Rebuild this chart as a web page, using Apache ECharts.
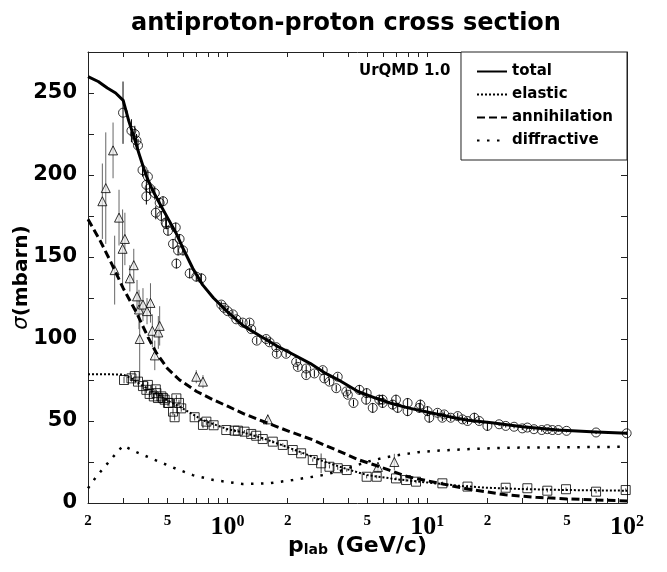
<!DOCTYPE html>
<html>
<head>
<meta charset="utf-8">
<title>antiproton-proton cross section</title>
<script src="https://cdn.jsdelivr.net/npm/echarts@6.0.0/dist/echarts.min.js"></script>
<style>
  html, body { margin: 0; padding: 0; background: #fff; }
  #chart { width: 667px; height: 572px; }
</style>
</head>
<body>
<div id="chart"></div>
<script>
// UrQMD model curves (p_lab in GeV/c, sigma in mbarn)
const totalP = [0.2, 0.225, 0.25, 0.275, 0.3, 0.32, 0.34, 0.36, 0.39, 0.42, 0.46, 0.5, 0.55, 0.6, 0.67, 0.75, 0.85, 1.0, 1.2, 1.45, 1.75, 2.1, 2.6, 3.1, 3.6, 4.5, 5.5, 6.5, 8, 10, 13, 16, 21, 30, 45, 70, 100];
const totalS = [260, 257, 253, 250, 245.5, 233, 223, 213, 200, 191, 182, 174, 165, 155, 143, 133, 125, 116.5, 108, 102, 96, 91, 85, 79, 75, 68, 64, 61, 58, 55.5, 52.5, 50.5, 49, 46.5, 44.5, 43.3, 42.5];

const elasticP = [0.2, 0.25, 0.3, 0.33, 0.36, 0.4, 0.45, 0.5, 0.57, 0.65, 0.75, 0.9, 1.0, 1.2, 1.5, 2, 2.5, 3, 4, 5, 7, 10, 15, 20, 30, 50, 100];
const elasticS = [78.5, 78.5, 78.3, 76, 73, 69.5, 66, 62.5, 59, 55, 50.5, 47, 45, 43, 39.5, 34, 29.5, 25.5, 20.5, 17, 14.5, 12.5, 10.3, 9.3, 8.5, 7.9, 7.5];

const annihP = [0.2, 0.23, 0.26, 0.3, 0.35, 0.4, 0.44, 0.5, 0.575, 0.7, 0.845, 1.0, 1.2, 1.445, 2, 2.67, 3.1, 3.63, 4.5, 5.5, 6.45, 8, 11.5, 16, 24.6, 35, 50, 100];
const annihS = [173, 160, 147, 131, 116, 101, 91.5, 82, 75, 68, 63, 59, 54.5, 50.6, 44, 38.5, 35, 31.5, 26.5, 23, 20, 16, 12, 8.5, 5, 3.5, 2.5, 1.2];

const diffP = [0.2, 0.22, 0.25, 0.28, 0.3, 0.35, 0.4, 0.457, 0.55, 0.67, 0.85, 1.19, 1.6, 2.12, 3, 3.77, 4.94, 6, 6.97, 9, 11.5, 17, 24.6, 50, 100];
const diffS = [9, 16, 24, 31, 35, 31, 28, 25, 21, 17, 14, 11.6, 12, 14, 17, 20, 25, 27.5, 29, 31, 32, 33, 33.7, 34, 34.3];

// measured total cross section (circles)
const circP = [0.2995, 0.33, 0.343, 0.35, 0.356, 0.375, 0.392, 0.392, 0.399, 0.407, 0.432, 0.437, 0.457, 0.466, 0.475, 0.49, 0.494, 0.503, 0.533, 0.55, 0.554, 0.565, 0.575, 0.598, 0.646, 0.697, 0.739, 0.93, 0.96, 1.0, 1.063, 1.105, 1.19, 1.288, 1.313, 1.4, 1.56, 1.622, 1.753, 1.763, 1.964, 2.205, 2.247, 2.475, 2.475, 2.72, 2.995, 3.05, 3.236, 3.5, 3.56, 3.93, 4.0, 4.27, 4.57, 4.97, 4.94, 5.33, 5.75, 5.97, 5.97, 6.71, 6.97, 7.11, 7.97, 7.97, 9.12, 9.23, 10.03, 10.23, 11.25, 11.9, 12.16, 13.1, 14.2, 15.0, 15.9, 17.2, 18.2, 20.0, 22.9, 24.7, 27.2, 29.9, 31.7, 34.2, 37.4, 39.9, 42.3, 45.3, 49.8, 70, 99.6];
const circS = [238, 227, 225, 221, 218, 203, 194, 187, 199, 192, 189, 177, 183, 175, 184, 171, 170, 166, 158, 168, 146, 154, 161, 154, 140, 138, 137, 121, 119, 117, 115, 112, 110, 110, 106, 99, 100, 98, 95, 91, 91, 86, 83, 82, 78, 79, 81, 76, 74, 70, 77, 68, 66, 61, 69, 67, 63, 58, 63, 61, 63, 60, 63, 58, 61, 56, 58, 60, 56, 52, 55, 52, 54, 52, 53, 51, 50, 52, 50, 47, 48, 47, 46.5, 45.5, 46, 45, 44.5, 45, 44.5, 44.5, 44, 43, 42.5];
const circE = [19, 7, 5, 4, 4, 4, 4, 5, 4, 4, 4, 4, 3, 3, 3, 3, 3, 3, 3, 3, 3, 3, 3, 3, 3, 3, 3, 2, 2, 2, 2, 2, 2, 2, 2, 2, 2, 2, 2, 2, 2, 2, 2, 2, 2, 2, 2, 2, 2, 2, 2, 2, 2, 2, 3, 3, 3, 3, 3, 3, 3, 3, 3, 3, 3, 3, 3, 3, 3, 3, 2, 2, 2, 2, 2, 2, 2, 3, 2, 3, 1, 1, 1, 1, 1, 1, 1, 1, 1, 1, 1, 1, 1];

// measured annihilation cross section (triangles)
const triP = [0.236, 0.2455, 0.267, 0.272, 0.286, 0.298, 0.306, 0.324, 0.339, 0.352, 0.36, 0.363, 0.377, 0.395, 0.411, 0.42, 0.432, 0.45, 0.457, 0.697, 0.753, 1.59, 5.66, 6.84];
const triS = [184, 192, 215, 142, 174, 155, 161, 137, 145, 126, 118, 100, 121, 117, 122, 105, 90, 104, 108, 77, 74, 51, 22, 25];
const triE = [23, 34, 17, 21, 17, 24, 16, 8, 10, 10, 12, 26, 10, 8, 12, 10, 9, 10, 12, 4, 4, 3, 3, 5];

// measured elastic cross section (squares)
const sqP = [0.303, 0.33, 0.343, 0.356, 0.377, 0.392, 0.399, 0.407, 0.427, 0.437, 0.44, 0.448, 0.466, 0.475, 0.484, 0.503, 0.509, 0.533, 0.543, 0.554, 0.571, 0.586, 0.684, 0.753, 0.783, 0.851, 0.985, 1.084, 1.126, 1.216, 1.313, 1.391, 1.5, 1.684, 1.89, 2.12, 2.335, 2.67, 2.94, 3.236, 3.56, 3.95, 4.97, 5.58, 6.97, 7.83, 8.78, 11.9, 15.9, 24.7, 31.7, 39.9, 49.5, 70, 98.5];
const sqS = [75, 76, 77.4, 74, 71.3, 69, 72, 66.5, 65, 69.3, 67, 64, 65, 64, 63, 61, 61, 55.7, 52.3, 63.8, 61, 57.7, 52.3, 47.6, 49.6, 47.4, 44.5, 44.1, 44.1, 43.5, 42.1, 41, 39, 37.4, 35.4, 32.3, 30.3, 26.2, 24.2, 22.1, 21.2, 20.1, 16, 16, 15, 14, 13, 12, 10, 9.3, 9, 7.5, 8.4, 6.9, 7.9];
const sqE = [2, 2, 3, 2, 2, 2, 2, 2, 2, 2, 2, 2, 2, 2, 2, 2, 2, 2, 2, 2, 2, 2, 2, 2, 2, 2, 1, 1, 1, 1, 1, 1, 1, 1, 1, 1, 1, 1, 6, 1, 1, 1, 1, 1, 1, 1, 1, 1, 1, 1, 1, 1, 1, 1, 1];

// axis ticks
const xTickVals = [0.2, 0.3, 0.4, 0.5, 0.6, 0.7, 0.8, 0.9, 1, 2, 3, 4, 5, 6, 7, 8, 9, 10, 20, 30, 40, 50, 60, 70, 80, 90, 100];
const xLabelVals = [0.2, 0.5, 1, 2, 5, 10, 20, 50, 100];
const yMax = 275;
const yStep = 25;

const SANS = 'DejaVu Sans';
const SERIF = 'Liberation Serif';
const logMin = Math.log10(0.2);
const logMax = Math.log10(100);

function pairs(xs, ys) {
  return xs.map((x, i) => [x, ys[i]]);
}
function triples(xs, ys, es) {
  return xs.map((x, i) => [x, ys[i], es[i]]);
}

function xLabel(v) {
  const e = Math.round(v);
  if (Math.abs(v - e) < 1e-6) return '{b|10}{e|' + e + '}';
  const lead = Math.round(Math.pow(10, v) / Math.pow(10, Math.floor(v + 1e-9)));
  return '{s|' + lead + '}';
}

function modelLine(name, xs, ys, type, width) {
  return {
    name: name,
    type: 'line',
    xAxisIndex: 0,
    yAxisIndex: 0,
    data: pairs(xs, ys),
    symbol: 'none',
    smooth: false,
    lineStyle: { color: '#000', width: width, type: type, join: 'round' },
    itemStyle: { color: '#000' },
    z: 6,
    silent: true
  };
}

function points(name, data, symbol, fill) {
  return {
    name: name,
    type: 'scatter',
    xAxisIndex: 0,
    yAxisIndex: 0,
    data: data,
    symbol: symbol,
    symbolSize: 9,
    itemStyle: { color: fill, borderColor: '#000', borderWidth: 1 },
    z: 4,
    silent: true
  };
}

function errorBars(name, data, color) {
  return {
    name: name,
    type: 'custom',
    xAxisIndex: 0,
    yAxisIndex: 0,
    data: data,
    encode: { x: 0, y: 1 },
    clip: true,
    z: 3,
    silent: true,
    renderItem: function (params, api) {
      const x = api.value(0), y = api.value(1), e = api.value(2);
      const top = api.coord([x, y + e]);
      const bot = api.coord([x, Math.max(y - e, 0)]);
      return {
        type: 'line',
        shape: { x1: top[0], y1: top[1], x2: bot[0], y2: bot[1] },
        style: { stroke: color, lineWidth: 1 }
      };
    }
  };
}

const circData = triples(circP, circS, circE);
const triData = triples(triP, triS, triE);
const sqData = triples(sqP, sqS, sqE);

const chart = echarts.init(document.getElementById('chart'), null, { renderer: 'canvas' });

const gridRect = { left: 88, right: 40, top: 52, bottom: 69, outerBoundsMode: 'none' };
const frame = { show: true, onZero: false, lineStyle: { color: '#222', width: 1 } };

const option = {
  animation: false,
  backgroundColor: '#fff',
  title: [
    {
      text: 'antiproton-proton cross section',
      left: 126,
      top: 7,
      textStyle: { fontFamily: SANS, fontSize: 24, fontWeight: 'bold', color: '#000' }
    },
    {
      text: 'UrQMD 1.0',
      left: 354,
      top: 59,
      textStyle: { fontFamily: SANS, fontSize: 15, fontWeight: 'bold', color: '#000' }
    }
  ],
  legend: {
    data: ['total', 'elastic', 'annihilation', 'diffractive'],
    orient: 'vertical',
    right: 40,
    top: 52,
    padding: [12, 14, 12, 15],
    itemGap: 8,
    itemWidth: 30,
    itemHeight: 14,
    backgroundColor: '#fff',
    borderColor: '#222',
    borderWidth: 1,
    borderRadius: 0,
    selectedMode: false,
    itemStyle: { color: 'rgba(0,0,0,0)', borderColor: 'rgba(0,0,0,0)', borderWidth: 0 },
    textStyle: { fontFamily: SANS, fontSize: 15, fontWeight: 'bold', color: '#000' }
  },
  grid: [gridRect, Object.assign({}, gridRect)],
  xAxis: [
    {
      // data axis: log scale
      type: 'log',
      gridIndex: 0,
      logBase: 10,
      min: 0.2,
      max: 100,
      position: 'bottom',
      axisLine: frame,
      axisTick: { show: false },
      axisLabel: { show: false },
      splitLine: { show: false },
      minorTick: { show: false },
      name: '{p|p}{sub|lab}{p| (GeV/c)}',
      nameLocation: 'middle',
      nameGap: 32,
      nameMoveOverlap: false,
      nameTextStyle: {
        rich: {
          p: { fontFamily: SANS, fontSize: 22, fontWeight: 'bold', color: '#000' },
          sub: { fontFamily: SANS, fontSize: 14, fontWeight: 'bold', color: '#000', verticalAlign: 'bottom' }
        }
      }
    },
    {
      // top frame with ticks
      type: 'value',
      gridIndex: 0,
      min: logMin,
      max: logMax,
      position: 'top',
      axisLine: frame,
      axisTick: {
        show: true, inside: true, length: 5,
        customValues: xTickVals.map(Math.log10),
        lineStyle: { color: '#222' }
      },
      axisLabel: { show: false },
      splitLine: { show: false }
    },
    {
      // bottom ticks and labels (in log10 units)
      type: 'value',
      gridIndex: 1,
      min: logMin,
      max: logMax,
      position: 'bottom',
      axisLine: { show: false, onZero: false },
      axisTick: {
        show: true, inside: true, length: 5,
        customValues: xTickVals.map(Math.log10),
        lineStyle: { color: '#222' }
      },
      axisLabel: {
        show: true,
        margin: 11,
        customValues: xLabelVals.map(Math.log10),
        formatter: xLabel,
        rich: {
          s: { fontFamily: SERIF, fontSize: 15, fontWeight: 'bold', color: '#000' },
          b: { fontFamily: SERIF, fontSize: 26, fontWeight: 'bold', color: '#000' },
          e: { fontFamily: SERIF, fontSize: 16, fontWeight: 'bold', color: '#000', verticalAlign: 'top' }
        }
      },
      splitLine: { show: false }
    }
  ],
  yAxis: [
    {
      type: 'value',
      gridIndex: 0,
      min: 0,
      max: yMax,
      interval: yStep,
      position: 'left',
      axisLine: frame,
      axisTick: { show: true, inside: true, length: 6, lineStyle: { color: '#222' } },
      axisLabel: {
        margin: 11,
        fontFamily: SANS,
        fontSize: 21,
        fontWeight: 'bold',
        color: '#000',
        formatter: v => (v % 50 === 0 ? String(v) : '')
      },
      splitLine: { show: false },
      name: '{g|σ}{t|(mbarn)}',
      nameLocation: 'middle',
      nameRotate: 90,
      nameGap: 56,
      nameMoveOverlap: false,
      nameTextStyle: {
        rich: {
          g: { fontFamily: SANS, fontSize: 21, fontStyle: 'italic', color: '#000' },
          t: { fontFamily: SANS, fontSize: 20, fontWeight: 'bold', color: '#000' }
        }
      }
    },
    {
      type: 'value',
      gridIndex: 0,
      min: 0,
      max: yMax,
      interval: yStep,
      position: 'right',
      axisLine: frame,
      axisTick: { show: true, inside: true, length: 6, lineStyle: { color: '#222' } },
      axisLabel: { show: false },
      splitLine: { show: false }
    },
    {
      type: 'value',
      gridIndex: 1,
      min: 0,
      max: 1,
      show: false
    }
  ],
  series: [
    errorBars('tri-err', triData, '#666'),
    errorBars('circ-err', circData, '#000'),
    errorBars('sq-err', sqData, '#444'),
    points('annihilation data', triData, 'triangle', 'rgba(235,235,235,0.9)'),
    points('total data', circData, 'circle', 'rgba(255,255,255,0)'),
    points('elastic data', sqData, 'rect', 'rgba(255,255,255,0)'),
    modelLine('total', totalP, totalS, 'solid', 3),
    modelLine('elastic', elasticP, elasticS, [2, 2], 2),
    modelLine('annihilation', annihP, annihS, [8, 4], 3),
    modelLine('diffractive', diffP, diffS, [2.5, 7.5], 2.5)
  ]
};

chart.setOption(option);
</script>
</body>
</html>
